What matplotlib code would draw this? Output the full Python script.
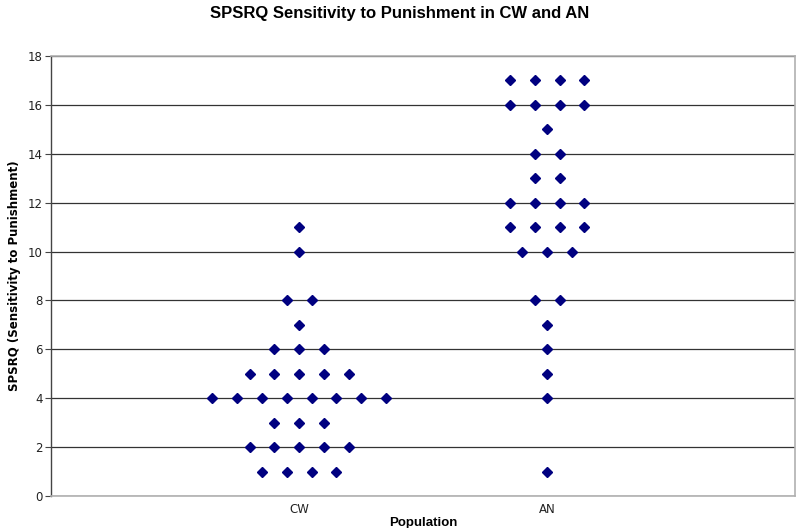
import matplotlib
matplotlib.use("Agg")
import matplotlib.pyplot as plt
from collections import Counter

categories = ["CW", "AN"]
cw_values = [11, 10, 8, 8, 7, 6, 6, 6,
             5, 5, 5, 5, 5,
             4, 4, 4, 4, 4, 4, 4, 4,
             3, 3, 3,
             2, 2, 2, 2, 2,
             1, 1, 1, 1]
an_values = [17, 17, 17, 17, 16, 16, 16, 16, 15, 14, 14, 13, 13,
             12, 12, 12, 12, 11, 11, 11, 11, 10, 10, 10,
             8, 8, 7, 6, 5, 4, 1]
y_ticks = [0, 2, 4, 6, 8, 10, 12, 14, 16, 18]

fig = plt.figure(figsize=(8, 5.28), dpi=100)
ax = fig.add_axes([0.064, 0.0606, 0.930, 0.8334])

spacing = 0.1
for i, vals in enumerate([cw_values, an_values]):
    center = i + 1
    counts = Counter(vals)
    xs, ys = [], []
    for v, n in counts.items():
        for k in range(n):
            xs.append(center + (k - (n - 1) / 2) * spacing)
            ys.append(v)
    ax.plot(xs, ys, linestyle="none", marker="D", markersize=5.5,
            color="#000080", zorder=3)

ax.set_xlim(0, 3)
ax.set_ylim(0, 18)
ax.set_yticks(y_ticks)
ax.set_yticklabels([str(t) for t in y_ticks], fontsize=8.5, family="DejaVu Sans", color="#222222")
ax.set_xticks([1, 2])
ax.set_xticklabels(categories, fontsize=8.5, family="DejaVu Sans", color="#222222")
ax.tick_params(axis="x", length=0, pad=5)
ax.tick_params(axis="y", length=4, width=0.8, color="#444444", pad=2)

ax.grid(axis="y", color="#333333", linewidth=0.9, zorder=1)
ax.set_axisbelow(True)
for side in ["top", "right", "bottom"]:
    ax.spines[side].set_color("#b0b0b0")
    ax.spines[side].set_linewidth(1.2)
ax.spines["left"].set_color("#444444")
ax.spines["left"].set_linewidth(1.0)

ax.set_xlabel("Population", fontsize=9.5, fontweight="bold", family="Liberation Sans", labelpad=1)
ax.set_ylabel("SPSRQ (Sensitivity to Punishment)", fontsize=8.5, fontweight="bold",
              family="DejaVu Sans", labelpad=5)
fig.text(0.5, 0.975, "SPSRQ Sensitivity to Punishment in CW and AN", ha="center", va="center",
         fontsize=12, fontweight="bold", family="Liberation Sans")

fig.savefig("out.png", dpi=100)
